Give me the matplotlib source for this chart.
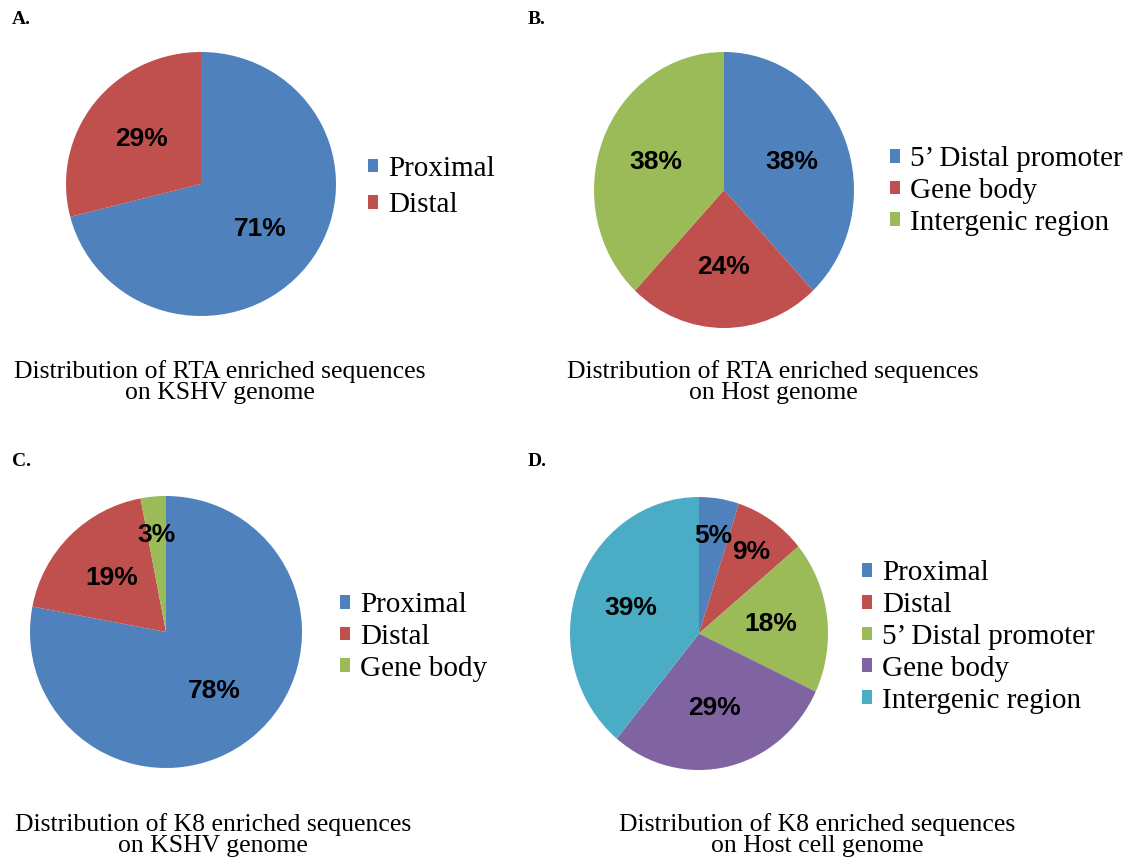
import numpy as np
import matplotlib
matplotlib.use("Agg")
import matplotlib.pyplot as plt

# panel data
a_labels = ["Proximal", "Distal"]
a_values = [71, 29]
b_labels = ["5\u2019 Distal promoter", "Gene body", "Intergenic region"]
b_values = [38, 24, 38]
c_labels = ["Proximal", "Distal", "Gene body"]
c_values = [78, 19, 3]
d_labels = ["Proximal", "Distal", "5\u2019 Distal promoter", "Gene body", "Intergenic region"]
d_values = [5, 9, 18, 29, 39]

captions = [
    "Distribution of RTA enriched sequences\non KSHV genome",
    "Distribution of RTA enriched sequences\non Host genome",
    "Distribution of K8 enriched sequences\non KSHV genome",
    "Distribution of K8 enriched sequences\non Host cell genome",
]
panel_tags = ["A.", "B.", "C.", "D."]

blue = "#4F81BD"
red = "#C0504D"
green = "#9BBB59"
purple = "#8064A2"
aqua = "#4BACC6"

W, H = 1142, 857
fig = plt.figure(figsize=(W / 100, H / 100), dpi=100)
fig.patch.set_facecolor("white")

serif = "Liberation Serif"
sans = "Liberation Sans"


def px_axes(x0, y0, x1, y1):
    return fig.add_axes([x0 / W, 1 - y1 / H, (x1 - x0) / W, (y1 - y0) / H])


def draw_pie(box, values, labels, colors, leg_xy, leg_spacing, cap_xy, tag_xy, tag, caption):
    ax = px_axes(*box)
    wedges, _ = ax.pie(values, colors=colors, startangle=90, counterclock=False,
                       radius=1.0, wedgeprops=dict(linewidth=0))
    ax.set_aspect("auto")
    ax.set_xlim(-1, 1)
    ax.set_ylim(-1, 1)
    total = float(sum(values))
    for w, v in zip(wedges, values):
        mid = np.deg2rad((w.theta1 + w.theta2) / 2)
        r = 0.72 if v / total < 0.1 else 0.56
        ax.text(r * np.cos(mid), r * np.sin(mid), f"{v}%", ha="center", va="center",
                fontsize=19, fontweight="bold", family=sans, color="black")
    fig.legend(wedges, labels, loc="center left",
               bbox_to_anchor=(leg_xy[0] / W, 1 - leg_xy[1] / H),
               frameon=False, prop=dict(family=serif, size=21),
               handlelength=0.35, handleheight=0.35, handletextpad=0.35,
               labelspacing=leg_spacing, borderpad=0, borderaxespad=0)
    fig.text(cap_xy[0] / W, 1 - cap_xy[1] / H, caption, ha="center", va="center",
             family=serif, fontsize=18.5, linespacing=0.95)
    fig.text(tag_xy[0] / W, 1 - tag_xy[1] / H, tag, ha="left", va="center",
             family=serif, fontweight="bold", fontsize=14)


draw_pie((66, 52, 336, 316), a_values, a_labels, [blue, red],
         (368, 187), 0.35, (220, 382), (12, 20), panel_tags[0], captions[0])
draw_pie((594, 52, 854, 328), b_values, b_labels, [blue, red, green],
         (890, 191), 0.2, (773, 382), (528, 20), panel_tags[1], captions[1])
draw_pie((30, 496, 302, 768), c_values, c_labels, [blue, red, green],
         (340, 637), 0.2, (213, 835), (12, 462), panel_tags[2], captions[2])
draw_pie((570, 497, 828, 770), d_values, d_labels, [blue, red, green, purple, aqua],
         (862, 637), 0.2, (817, 835), (528, 462), panel_tags[3], captions[3])

fig.savefig("out.png", dpi=100, facecolor="white")
